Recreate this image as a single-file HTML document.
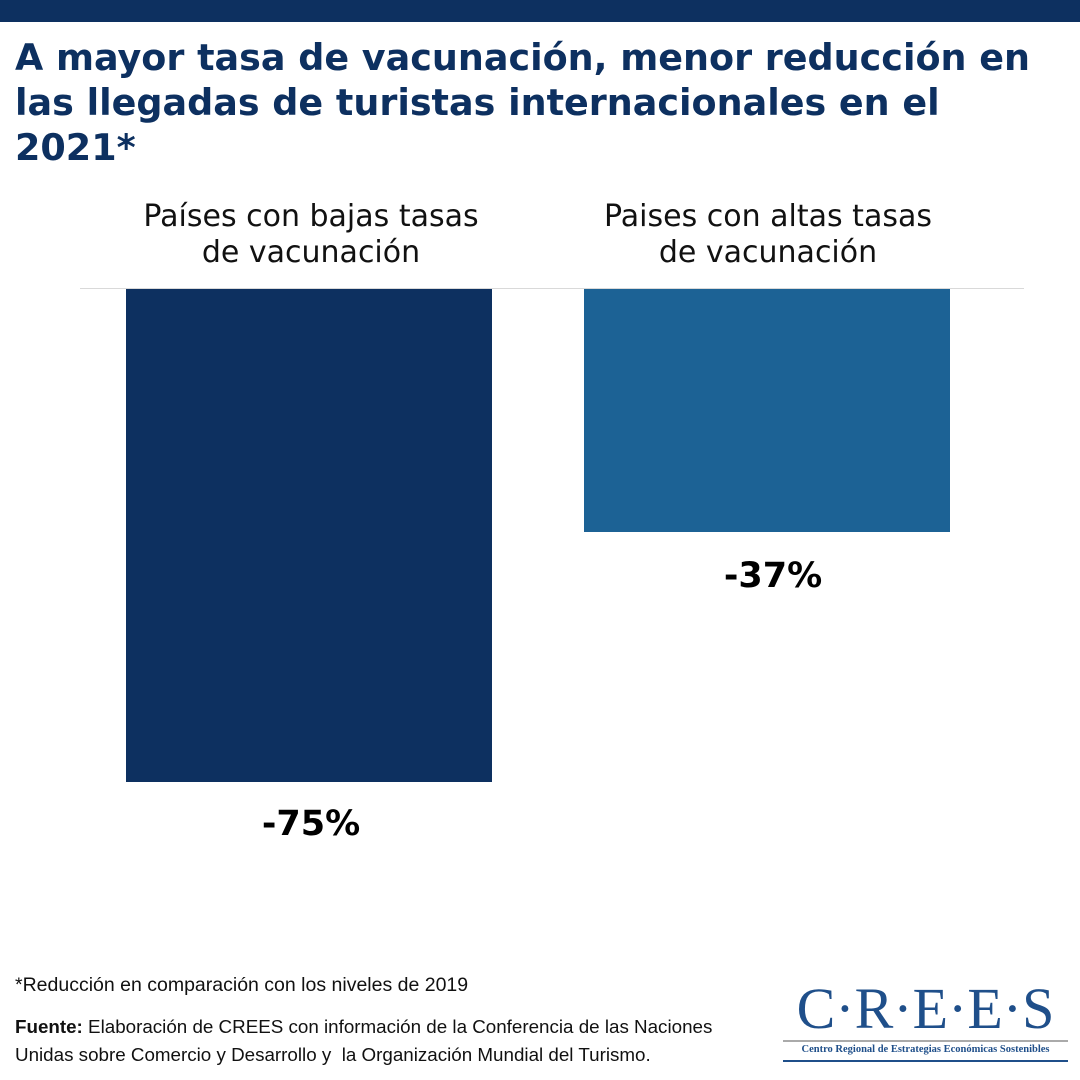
<!DOCTYPE html>
<html><head><meta charset="utf-8"><style>
body{margin:0;width:1080px;height:1080px;background:#fff;position:relative;overflow:hidden;font-family:"DejaVu Sans",sans-serif}
.a{position:absolute}
</style></head><body>
<div class="a" style="left:0;top:0;width:1080px;height:22px;background:#0d3060"></div>
<div class="a" style="left:15px;top:35px;width:1065px;font-weight:bold;font-size:36.5px;line-height:45px;color:#0d3060;white-space:nowrap">A mayor tasa de vacunación, menor reducción en<br>las llegadas de turistas internacionales en el<br>2021*</div>
<div class="a" style="left:80px;top:288px;width:944px;height:1px;background:#d9d9d9"></div>
<div class="a" style="left:111px;top:199px;width:400px;text-align:center;font-size:30px;line-height:36px;color:#111">Países con bajas tasas<br>de vacunación</div>
<div class="a" style="left:568px;top:199px;width:400px;text-align:center;font-size:30px;line-height:36px;color:#111">Paises con altas tasas<br>de vacunación</div>
<div class="a" style="left:126px;top:289px;width:366px;height:493px;background:#0d3060"></div>
<div class="a" style="left:584px;top:289px;width:366px;height:243px;background:#1c6295"></div>
<div class="a" style="left:111px;top:804px;width:400px;text-align:center;font-size:35px;font-weight:bold;color:#000">-75%</div>
<div class="a" style="left:573px;top:556px;width:400px;text-align:center;font-size:35px;font-weight:bold;color:#000">-37%</div>
<div class="a" style="left:15px;top:974px;font-family:'Liberation Sans',sans-serif;font-size:19.5px;color:#111">*Reducción en comparación con los niveles de 2019</div>
<div class="a" style="left:15px;top:1013px;width:760px;font-family:'Liberation Sans',sans-serif;font-size:18.8px;line-height:28px;color:#111;white-space:nowrap"><b>Fuente:</b> Elaboración de CREES con información de la Conferencia de las Naciones<br>Unidas sobre Comercio y Desarrollo y &nbsp;la Organización Mundial del Turismo.</div>
<div class="a" style="left:783px;top:980px;width:285px;text-align:center;font-family:'Liberation Serif',serif;font-size:58px;line-height:58px;color:#1f4f8a">C·R·E·E·S</div>
<div class="a" style="left:783px;top:1040px;width:285px;height:2px;background:#aaa"></div>
<div class="a" style="left:783px;top:1044px;width:285px;text-align:center;font-family:'Liberation Serif',serif;font-weight:bold;font-size:10.5px;color:#1f4f8a;white-space:nowrap">Centro Regional de Estrategias Económicas Sostenibles</div>
<div class="a" style="left:783px;top:1060px;width:285px;height:2px;background:#1f4f8a"></div>
</body></html>
